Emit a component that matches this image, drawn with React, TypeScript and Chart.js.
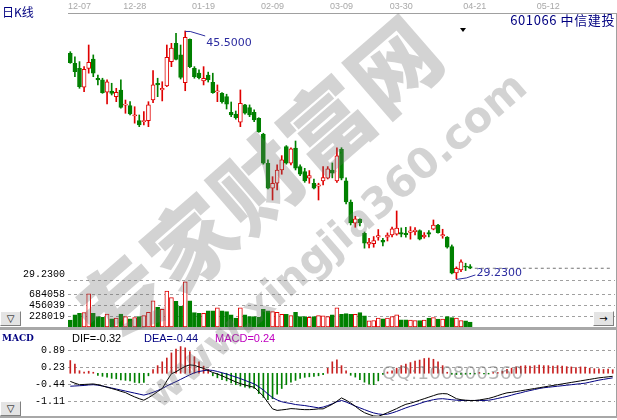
import React, { useEffect, useRef } from 'react';
import { Chart, registerables } from 'chart.js';

Chart.register(...registerables);

const SLOTS = 119;
const DATE_LABELS = ['12-07', '12-28', '01-19', '02-09', '03-09', '03-30', '04-21', '05-12'];
const DATE_SLOTS = [2, 14, 29, 44, 59, 72, 88, 104];

const OPEN = [
  44.04, 43.38, 43.05, 41.81, 43.05, 43.66, 42.40, 42.29, 41.48, 41.56,
  41.19, 41.63, 40.63, 40.60, 39.92, 39.62, 39.55, 39.62, 40.97, 42.07,
  41.63, 41.89, 43.49, 44.69, 43.93, 42.11, 44.96, 43.05, 42.73, 42.22,
  42.61, 42.13, 41.50, 41.41, 41.19, 40.17, 40.04, 39.51, 40.65, 40.47,
  40.17, 39.77, 38.72, 36.82, 35.18, 35.51, 36.38, 37.91, 36.82, 37.81,
  36.60, 36.27, 35.84, 35.51, 35.31, 35.66, 35.84, 36.38, 35.66, 37.74,
  35.66, 34.28, 32.89, 33.15, 32.23, 31.51, 31.55, 31.97, 31.77, 31.97,
  32.12, 32.16, 32.27, 32.23, 32.29, 32.33, 32.40, 31.99, 32.27, 32.49,
  32.77, 32.05, 31.97, 31.35, 29.62, 29.82, 30.08, 30.04,
];
const HIGH = [
  44.14, 43.81, 43.49, 43.16, 44.58, 43.93, 42.61, 42.40, 42.29, 42.07,
  41.74, 42.29, 40.97, 40.86, 40.53, 39.99, 40.21, 40.86, 42.90, 42.40,
  42.17, 44.58, 44.69, 45.35, 44.58, 45.50, 44.98, 43.16, 42.95, 43.16,
  42.80, 42.73, 41.96, 41.45, 41.35, 40.84, 40.25, 41.63, 40.69, 40.65,
  40.32, 39.81, 38.79, 37.04, 35.94, 36.71, 37.32, 37.98, 37.84, 38.28,
  36.71, 36.49, 36.34, 35.79, 35.51, 36.60, 36.60, 36.84, 37.84, 37.84,
  35.86, 34.41, 33.34, 33.17, 32.31, 31.90, 32.01, 32.47, 31.90, 32.25,
  32.64, 33.69, 32.58, 32.62, 32.66, 32.60, 32.45, 32.27, 32.40, 33.10,
  32.82, 32.49, 32.01, 31.46, 30.02, 30.48, 30.26, 30.17,
];
const LOW = [
  43.38, 42.50, 41.74, 41.52, 42.73, 42.50, 41.96, 41.41, 40.71, 41.30,
  40.86, 40.43, 40.10, 39.99, 39.45, 39.22, 39.33, 39.22, 40.80, 41.19,
  40.91, 41.85, 43.16, 43.60, 42.35, 41.58, 43.09, 42.40, 42.35, 41.96,
  42.15, 41.41, 40.86, 40.76, 40.38, 39.88, 39.71, 39.22, 40.04, 39.88,
  39.55, 38.85, 36.76, 35.14, 34.41, 35.07, 36.10, 36.76, 36.71, 36.38,
  36.01, 35.57, 35.51, 35.14, 34.41, 35.40, 35.79, 35.86, 35.57, 35.73,
  34.15, 32.77, 32.62, 32.71, 31.25, 31.27, 31.31, 31.77, 31.40, 31.72,
  31.99, 32.10, 31.99, 31.97, 31.84, 32.12, 31.79, 31.90, 31.99, 32.45,
  32.23, 31.90, 31.25, 29.56, 29.23, 29.71, 29.78, 29.90,
];
const CLOSE = [
  43.42, 42.83, 41.85, 42.99, 43.45, 42.73, 42.29, 41.45, 42.17, 41.41,
  41.48, 40.49, 40.71, 40.06, 39.99, 39.33, 39.62, 40.65, 41.96, 41.96,
  41.74, 43.77, 44.37, 43.64, 42.46, 45.09, 43.16, 42.50, 42.44, 42.40,
  42.29, 41.45, 41.58, 40.86, 40.69, 39.99, 39.81, 40.76, 40.10, 39.99,
  39.66, 38.89, 36.82, 35.18, 35.51, 36.38, 37.04, 36.82, 37.76, 36.49,
  36.10, 35.66, 36.01, 35.18, 35.40, 35.88, 36.45, 36.17, 37.30, 35.84,
  34.28, 32.91, 33.17, 32.92, 31.57, 31.64, 31.74, 32.07, 31.64, 32.10,
  32.51, 32.56, 32.16, 32.14, 32.38, 32.43, 31.84, 32.10, 32.16, 32.77,
  32.27, 32.14, 31.31, 29.61, 29.93, 30.35, 30.00, 29.93,
];
const VOLUME = [
  143000, 252000, 286000, 299000, 694000, 286000, 218000, 204000, 272000, 170000,
  184000, 272000, 218000, 170000, 197000, 218000, 238000, 306000, 544000, 408000,
  367000, 748000, 612000, 537000, 435000, 945000, 544000, 299000, 286000, 286000,
  340000, 340000, 401000, 340000, 320000, 252000, 184000, 401000, 252000, 218000,
  218000, 204000, 367000, 340000, 320000, 306000, 265000, 265000, 238000, 306000,
  218000, 218000, 204000, 218000, 238000, 231000, 218000, 252000, 401000, 265000,
  279000, 265000, 265000, 299000, 231000, 129000, 136000, 184000, 170000, 184000,
  218000, 252000, 150000, 150000, 143000, 136000, 136000, 143000, 184000, 197000,
  163000, 163000, 218000, 197000, 184000, 136000, 129000, 102000,
];
const DIF = [
  -0.32, -0.39, -0.45, -0.44, -0.43, -0.42, -0.45, -0.50, -0.55, -0.60,
  -0.65, -0.71, -0.76, -0.85, -0.93, -1.00, -1.06, -0.96, -0.85, -0.72,
  -0.60, -0.30, -0.02, 0.06, 0.17, 0.27, 0.33, 0.31, 0.25, 0.19,
  0.11, 0.03, -0.03, -0.10, -0.18, -0.26, -0.34, -0.41, -0.46, -0.51,
  -0.55, -0.72, -0.90, -1.15, -1.40, -1.46, -1.44, -1.42, -1.39, -1.40,
  -1.42, -1.43, -1.43, -1.42, -1.40, -1.40, -1.31, -1.22, -1.10, -0.97,
  -1.06, -1.17, -1.30, -1.44, -1.55, -1.62, -1.68, -1.69, -1.63, -1.55,
  -1.47, -1.39, -1.30, -1.22, -1.18, -1.12, -1.06, -1.00, -0.94, -0.88,
  -0.82, -0.80, -0.81, -0.90, -1.00, -1.04, -1.06, -1.07, -1.07, -1.05,
  -1.02, -0.99, -0.94, -0.88, -0.82, -0.77, -0.75, -0.72, -0.69, -0.66,
  -0.63, -0.60, -0.57, -0.54, -0.51, -0.48, -0.45, -0.42, -0.39, -0.36,
  -0.33, -0.30, -0.27, -0.24, -0.21, -0.18, -0.16, -0.14, -0.12,
];
const DEA = [
  -0.51, -0.50, -0.49, -0.48, -0.46, -0.45, -0.47, -0.50, -0.54, -0.58,
  -0.62, -0.66, -0.70, -0.74, -0.78, -0.82, -0.86, -0.81, -0.75, -0.68,
  -0.60, -0.50, -0.41, -0.33, -0.24, -0.15, -0.06, 0.02, 0.07, 0.10,
  0.13, 0.11, 0.07, 0.02, -0.03, -0.09, -0.15, -0.21, -0.28, -0.35,
  -0.42, -0.53, -0.66, -0.82, -0.96, -1.05, -1.12, -1.16, -1.19, -1.23,
  -1.25, -1.27, -1.30, -1.33, -1.36, -1.33, -1.27, -1.20, -1.12, -1.07,
  -1.13, -1.21, -1.29, -1.36, -1.43, -1.50, -1.56, -1.60, -1.62, -1.61,
  -1.56, -1.50, -1.43, -1.36, -1.30, -1.25, -1.19, -1.13, -1.08, -1.04,
  -1.01, -1.00, -1.02, -1.04, -1.06, -1.07, -1.07, -1.07, -1.07, -1.07,
  -1.07, -1.06, -1.03, -0.99, -0.95, -0.91, -0.86, -0.81, -0.77, -0.72,
  -0.68, -0.64, -0.60, -0.57, -0.55, -0.53, -0.51, -0.49, -0.47, -0.45,
  -0.43, -0.41, -0.39, -0.35, -0.31, -0.27, -0.24, -0.21, -0.18,
];
const MACD = [
  0.50, 0.36, 0.10, 0.05, 0.08, 0.04, -0.08, -0.12, -0.15, -0.20,
  -0.22, -0.26, -0.28, -0.30, -0.36, -0.38, -0.36, -0.10, 0.14, 0.30,
  0.45, 0.60, 0.80, 0.95, 1.05, 1.00, 0.85, 0.65, 0.45, 0.28,
  0.15, -0.10, -0.18, -0.25, -0.30, -0.38, -0.45, -0.50, -0.55, -0.58,
  -0.60, -0.80, -0.95, -1.04, -1.00, -0.82, -0.60, -0.45, -0.35, -0.28,
  -0.20, -0.16, -0.14, -0.12, -0.10, -0.06, 0.20, 0.45, 0.53, 0.30,
  0.10, -0.08, -0.15, -0.25, -0.35, -0.42, -0.45, -0.30, -0.05, 0.05,
  0.10, 0.20, 0.30, 0.36, 0.42, 0.48, 0.52, 0.58, 0.60, 0.55,
  0.45, 0.30, 0.04, -0.04, -0.05, -0.05, -0.04, -0.03, -0.03, 0.03,
  -0.03, -0.03, 0.03, 0.03, 0.08, 0.15, 0.20, 0.25, 0.28, 0.30,
  0.28, 0.30, 0.32, 0.30, 0.30, 0.28, 0.30, 0.28, 0.26, 0.25,
  0.22, 0.25, 0.24, 0.20, 0.18, 0.17, 0.15, 0.16, 0.14,
];

const PRICE_MIN = 29.16;
const PRICE_MAX = 46.68;
const PRICE_TICK_LABELS = ['29.2300'];
const VOLUME_MAX = 960000;
const VOLUME_TICKS = [228019, 456039, 684058];
const MACD_MIN = -1.72;
const MACD_MAX = 1.19;
const MACD_TICKS = [0.89, 0.23, -0.44, -1.11];
const MACD_TICK_LABELS = ['0.89', '0.23', '-0.44', '-1.11'];
const STOCK_TITLE = '601066 中信建投';
const PERIOD_TITLE = '日K线';
const MACD_HEADER = ['MACD', 'DIF=-0.32', 'DEA=-0.44', 'MACD=0.24'];

const RED = '#e00000';
const GREEN = '#008000';
const GRID = '#a0a0a0';
const NAVY = '#000080';
const MONO = '"Liberation Mono", "DejaVu Sans Mono", monospace';

const SLOT_LABELS = Array.from({ length: SLOTS }, (_, i) => {
  const k = DATE_SLOTS.indexOf(i);
  return k >= 0 ? DATE_LABELS[k] : '';
});

const baseOptions = (padding: any) => ({
  responsive: false,
  animation: false as const,
  events: [] as any[],
  layout: { padding, autoPadding: false },
  plugins: { legend: { display: false }, tooltip: { enabled: false } },
});

const leftAxisFit = (s: any) => {
  s.width = 68;
  s.paddingTop = 0;
  s.paddingBottom = 0;
};

export default function App() {
  const priceRef = useRef<HTMLCanvasElement>(null);
  const volRef = useRef<HTMLCanvasElement>(null);
  const macdRef = useRef<HTMLCanvasElement>(null);

  useEffect(() => {
    document.body.style.margin = '0';
    const charts: Chart[] = [];
    const up = CLOSE.map((c, i) => c >= OPEN[i]);
    const lastClose = CLOSE[CLOSE.length - 1];
    const lastLine = Array.from({ length: SLOTS }, (_, i) => (i > CLOSE.length - 1 ? lastClose : null));

    const annot = {
      id: 'annot',
      afterDatasetsDraw(chart: any) {
        const { ctx, scales } = chart;
        const x = scales.x;
        const y = scales.y;
        const hiVal = Math.max(...HIGH);
        const loVal = Math.min(...LOW);
        const hi = HIGH.indexOf(hiVal);
        const lo = LOW.indexOf(loVal);
        ctx.save();
        ctx.strokeStyle = '#2c2ca0';
        ctx.fillStyle = '#2c2ca0';
        ctx.lineWidth = 1;
        ctx.font = '11px "DejaVu Sans"';
        ctx.textBaseline = 'middle';
        const hx = x.getPixelForValue(hi);
        const hy = y.getPixelForValue(hiVal);
        ctx.beginPath();
        ctx.moveTo(hx, hy + 0.5);
        ctx.lineTo(hx + 5, hy + 0.5);
        ctx.lineTo(hx + 20, hy + 5);
        ctx.stroke();
        ctx.fillText(hiVal.toFixed(4), hx + 21, hy + 12);
        const lx = x.getPixelForValue(lo);
        const ly = y.getPixelForValue(loVal);
        ctx.beginPath();
        ctx.moveTo(lx, ly + 0.5);
        ctx.lineTo(lx + 10, ly - 1);
        ctx.lineTo(lx + 19, ly - 4);
        ctx.stroke();
        ctx.fillText(loVal.toFixed(4), lx + 20, ly - 5.5);
        ctx.restore();
      },
    };

    if (priceRef.current) {
      charts.push(
        new Chart(priceRef.current, {
          type: 'bar',
          data: {
            labels: SLOT_LABELS,
            datasets: [
              {
                type: 'bar',
                data: OPEN.map((o, i) => [o, CLOSE[i]]) as any,
                backgroundColor: up.map((u) => (u ? '#ffffff' : GREEN)),
                borderColor: up.map((u) => (u ? RED : GREEN)),
                borderWidth: 1,
                borderSkipped: false,
                barThickness: 4,
                minBarLength: 1,
                grouped: false,
                order: 0,
              } as any,
              {
                type: 'bar',
                data: LOW.map((l, i) => [l, HIGH[i]]) as any,
                backgroundColor: up.map((u) => (u ? RED : GREEN)),
                borderWidth: 0,
                barThickness: 1,
                grouped: false,
                order: 1,
              } as any,
              {
                type: 'line',
                data: lastLine as any,
                borderColor: '#707070',
                borderWidth: 1,
                borderDash: [3, 3],
                pointRadius: 0,
                order: 2,
              } as any,
            ],
          },
          options: {
            ...baseOptions({ left: 0, right: 2, top: 0, bottom: 1 }),
            scales: {
              x: {
                type: 'category',
                position: 'top',
                offset: true,
                grid: { display: false, drawTicks: false },
                border: { display: true, color: GRID },
                ticks: {
                  autoSkip: false,
                  maxRotation: 0,
                  color: '#a8a8a8',
                  padding: 1,
                  font: { family: '"Liberation Sans"', size: 9 },
                },
                afterFit: (s: any) => {
                  s.height = 13;
                  s.paddingLeft = 0;
                  s.paddingRight = 0;
                },
              },
              y: {
                min: PRICE_MIN,
                max: PRICE_MAX,
                afterFit: leftAxisFit,
                afterBuildTicks: (s: any) => {
                  s.ticks = [{ value: PRICE_MIN }];
                },
                grid: { color: GRID, drawTicks: false },
                border: { display: false, dash: [3, 3] },
                ticks: {
                  color: '#000',
                  padding: 3,
                  labelOffset: -6,
                  font: { family: MONO, size: 10 },
                  callback: () => PRICE_TICK_LABELS[0],
                },
              },
            },
          } as any,
          plugins: [annot],
        })
      );
    }

    if (volRef.current) {
      charts.push(
        new Chart(volRef.current, {
          type: 'bar',
          data: {
            labels: SLOT_LABELS,
            datasets: [
              {
                data: VOLUME,
                backgroundColor: up.map((u) => (u ? '#ffffff' : GREEN)),
                borderColor: up.map((u) => (u ? RED : GREEN)),
                borderWidth: 1,
                borderSkipped: false,
                barThickness: 4,
              } as any,
            ],
          },
          options: {
            ...baseOptions({ left: 0, right: 2, top: 0, bottom: 0 }),
            scales: {
              x: { type: 'category', offset: true, display: false },
              y: {
                min: 0,
                max: VOLUME_MAX,
                afterFit: leftAxisFit,
                afterBuildTicks: (s: any) => {
                  s.ticks = VOLUME_TICKS.map((v) => ({ value: v }));
                },
                grid: { color: GRID, drawTicks: false },
                border: { display: false, dash: [3, 3] },
                ticks: {
                  color: '#000',
                  padding: 3,
                  font: { family: MONO, size: 10 },
                  callback: (v: any) => String(v),
                },
              },
            },
          } as any,
        })
      );
    }

    if (macdRef.current) {
      charts.push(
        new Chart(macdRef.current, {
          type: 'bar',
          data: {
            labels: SLOT_LABELS,
            datasets: [
              {
                type: 'line',
                data: DIF,
                borderColor: '#000000',
                borderWidth: 1,
                pointRadius: 0,
                order: 0,
              } as any,
              {
                type: 'line',
                data: DEA,
                borderColor: NAVY,
                borderWidth: 1,
                pointRadius: 0,
                order: 1,
              } as any,
              {
                type: 'bar',
                data: MACD,
                backgroundColor: MACD.map((v) => (v >= 0 ? '#c82020' : GREEN)),
                borderWidth: 0,
                barThickness: 1,
                order: 2,
              } as any,
            ],
          },
          options: {
            ...baseOptions({ left: 0, right: 2, top: 0, bottom: 1 }),
            scales: {
              x: { type: 'category', offset: true, display: false },
              y: {
                min: MACD_MIN,
                max: MACD_MAX,
                afterFit: leftAxisFit,
                afterBuildTicks: (s: any) => {
                  s.ticks = MACD_TICKS.map((v) => ({ value: v }));
                },
                grid: { color: GRID, drawTicks: false },
                border: { display: false, dash: [3, 3] },
                ticks: {
                  color: '#000',
                  padding: 3,
                  font: { family: MONO, size: 10 },
                  callback: (_v: any, i: number) => MACD_TICK_LABELS[i],
                },
              },
            },
          } as any,
        })
      );
    }

    return () => charts.forEach((c) => c.destroy());
  }, []);

  const abs = (s: any) => ({ position: 'absolute' as const, ...s });
  const btn = {
    background: '#e4e4e4',
    borderStyle: 'solid',
    borderWidth: 1,
    borderColor: '#ffffff #808080 #808080 #ffffff',
    boxSizing: 'border-box' as const,
    fontSize: 10,
    lineHeight: '13px',
    textAlign: 'center' as const,
    fontFamily: '"DejaVu Sans"',
    color: '#000',
  };
  const wm = 'rgba(110,110,110,0.3)';

  return (
    <div style={abs({ left: 0, top: 0, width: 617, height: 420, background: '#fff', overflow: 'hidden' })}>
      <canvas ref={priceRef} width={617} height={281} style={abs({ left: 0, top: 0, width: 617, height: 281 })} />
      <canvas ref={volRef} width={617} height={46} style={abs({ left: 0, top: 281, width: 617, height: 46 })} />
      <canvas ref={macdRef} width={617} height={75} style={abs({ left: 0, top: 343, width: 617, height: 75 })} />

      <div style={abs({ left: 2, top: 5, fontSize: 12, lineHeight: '13px', color: NAVY, fontFamily: '"Noto Sans CJK SC", sans-serif' })}>
        {PERIOD_TITLE}
      </div>
      <div style={abs({ right: 2, top: 13, fontSize: 13, lineHeight: '14px', letterSpacing: 0.6, color: NAVY, fontFamily: '"Noto Sans CJK SC", sans-serif', whiteSpace: 'nowrap' })}>
        {STOCK_TITLE}
      </div>
      <div style={abs({ left: 460, top: 28, width: 0, height: 0, borderLeft: '3px solid transparent', borderRight: '3px solid transparent', borderTop: '4px solid #000' })} />

      <div style={abs({ left: 616, top: 13, width: 1, height: 404, background: GRID })} />
      <div style={abs({ left: 0, top: 327, width: 617, height: 3, background: '#a8a8a8' })} />
      <div style={abs({ left: 0, top: 416, width: 617, height: 2, background: '#a8a8a8' })} />

      <div style={abs({ left: 0, top: 311, width: 21, height: 15, ...btn })}>▽</div>
      <div style={abs({ left: 593, top: 311, width: 21, height: 15, ...btn })}>→</div>
      <div style={abs({ left: 0, top: 401, width: 21, height: 15, ...btn })}>▽</div>

      <div style={abs({ left: 2, top: 333, fontSize: 9, lineHeight: '11px', fontWeight: 'bold', color: NAVY, fontFamily: '"DejaVu Serif"' })}>
        {MACD_HEADER[0]}
      </div>
      <div style={abs({ left: 72, top: 332, fontSize: 11, lineHeight: '12px', color: '#000', fontFamily: '"Liberation Sans"' })}>
        {MACD_HEADER[1]}
      </div>
      <div style={abs({ left: 144, top: 332, fontSize: 11, lineHeight: '12px', color: NAVY, fontFamily: '"Liberation Sans"' })}>
        {MACD_HEADER[2]}
      </div>
      <div style={abs({ left: 215, top: 332, fontSize: 11, lineHeight: '12px', color: '#c000c0', fontFamily: '"Liberation Sans"' })}>
        {MACD_HEADER[3]}
      </div>

      <div
        style={abs({
          left: 256,
          top: 180,
          transform: 'translate(-50%, -50%) rotate(-41deg)',
          fontSize: 88,
          lineHeight: 1,
          fontWeight: 900,
          letterSpacing: 2,
          whiteSpace: 'nowrap',
          color: wm,
          fontFamily: '"Noto Sans CJK SC", sans-serif',
          pointerEvents: 'none',
        })}
      >
        专家财富网
      </div>
      <div
        style={abs({
          left: 335,
          top: 240,
          transform: 'translate(-50%, -50%) rotate(-40.8deg)',
          fontSize: 42,
          lineHeight: 1,
          fontWeight: 'bold',
          whiteSpace: 'nowrap',
          color: wm,
          fontFamily: '"DejaVu Sans", sans-serif',
          pointerEvents: 'none',
        })}
      >
        www.xingjia360.com
      </div>
      <div
        style={abs({
          left: 382,
          top: 362,
          fontSize: 18.5,
          lineHeight: '21px',
          whiteSpace: 'nowrap',
          color: 'rgba(110,110,110,0.5)',
          fontFamily: '"DejaVu Sans", sans-serif',
          pointerEvents: 'none',
        })}
      >
        QQ:100800360
      </div>
    </div>
  );
}
